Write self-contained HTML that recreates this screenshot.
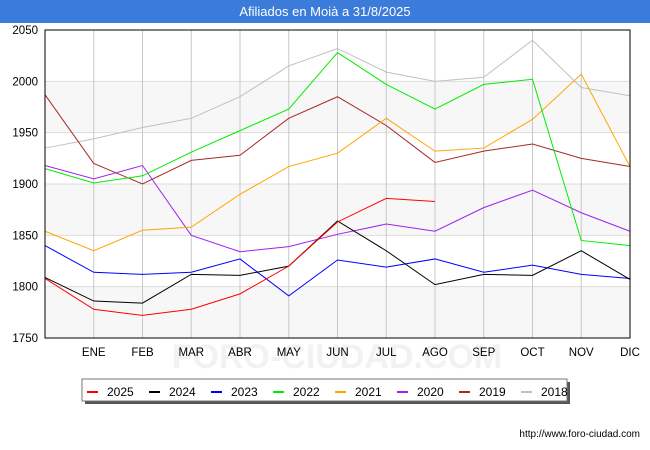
<!DOCTYPE html>
<html><head><meta charset="utf-8"><style>
body{margin:0;background:#fff;font-family:"Liberation Sans","DejaVu Sans",sans-serif;}
#wrap{position:relative;width:650px;height:450px;overflow:hidden;}
#title{position:absolute;left:0;top:0;width:650px;height:23px;background:#3b7bd9;color:#fff;font-size:13px;text-align:center;line-height:23px;}
</style></head><body>
<div id="wrap">
<div id="title">Afiliados en Moià a 31/8/2025</div>
<svg id="svg" width="650" height="450" style="position:absolute;left:0;top:0"></svg>
</div>
<script>
const months=["ENE","FEB","MAR","ABR","MAY","JUN","JUL","AGO","SEP","OCT","NOV","DIC"];
const yTicks=[1750,1800,1850,1900,1950,2000,2050];
const seriesNames=["2025","2024","2023","2022","2021","2020","2019","2018"];
const seriesColors=["#ff0000","#000000","#0000ff","#00ee00","#ffa500","#a020f0","#a52a2a","#c0c0c0"];
const s2025=[1808,1778,1772,1778,1793,1820,1863,1886,1883];
const s2024=[1809,1786,1784,1812,1811,1820,1864,1835,1802,1812,1811,1835,1807];
const s2023=[1840,1814,1812,1814,1827,1791,1826,1819,1827,1814,1821,1812,1808];
const s2022=[1915,1901,1908,1931,1952,1973,2028,1997,1973,1997,2002,1845,1840];
const s2021=[1854,1835,1855,1858,1890,1917,1930,1964,1932,1935,1963,2007,1917];
const s2020=[1918,1905,1918,1850,1834,1839,1851,1861,1854,1877,1894,1872,1854];
const s2019=[1987,1920,1900,1923,1928,1964,1985,1957,1921,1932,1939,1925,1917];
const s2018=[1935,1944,1955,1964,1985,2015,2032,2009,2000,2004,2040,1994,1986];
const allSeries=[s2025,s2024,s2023,s2022,s2021,s2020,s2019,s2018];
const NS="http://www.w3.org/2000/svg";
const svg=document.getElementById('svg');
const X0=45,X1=630,Y0=338,Y1=30;
const x=i=>X0+(X1-X0)*i/12;
const y=v=>Y0-(v-1750)*(Y0-Y1)/300;
function mk(t,a,p){const e=document.createElementNS(NS,t);for(const k in a)e.setAttribute(k,a[k]);(p||svg).appendChild(e);return e;}
for(let i=0;i<yTicks.length-1;i+=2){
 const r=mk('rect',{x:X0,y:y(yTicks[i+1]),width:X1-X0,height:y(yTicks[i])-y(yTicks[i+1]),fill:'#f7f7f7'});
 
 
}
const wm=mk('text',{x:337,y:368,'text-anchor':'middle','font-size':34,fill:'#f2f2f2','font-weight':'bold'});
wm.textContent='FORO-CIUDAD.COM';


yTicks.forEach(v=>{
 const l=mk('line',{x1:X0,x2:X1,y1:y(v),y2:y(v),stroke:'#dddddd','stroke-width':1});
 
 
 const t=mk('text',{x:38,y:y(v)+4,'text-anchor':'end','font-size':11.5,fill:'#000'});
 t.textContent=v;
 
 
});
months.forEach((m,i)=>{
 const l=mk('line',{x1:x(i+1),x2:x(i+1),y1:Y1,y2:Y0,stroke:'#c8c8c8','stroke-width':1});
 
 
 const t=mk('text',{x:x(i+1),y:356,'text-anchor':'middle','font-size':11.5,fill:'#000'});
 t.textContent=m;
 
 
});
for(let k=allSeries.length-1;k>=0;k--){
 const pts=allSeries[k].map((v,i)=>x(i)+','+y(v)).join(' ');
 const p=mk('polyline',{points:pts,fill:'none',stroke:seriesColors[k],'stroke-width':1});
 
 
}
const fr=mk('rect',{x:X0,y:Y1,width:X1-X0,height:Y0-Y1,fill:'none',stroke:'#000','stroke-width':1});


const lg=mk('g',{});


mk('rect',{x:85,y:382,width:485,height:22,fill:'#555'},lg);
mk('rect',{x:82,y:379,width:485,height:22,fill:'#fff',stroke:'#777','stroke-width':1},lg);
seriesNames.forEach((n,i)=>{
 const g=mk('g',{},lg);
 
 
 const lx=87+i*62;
 mk('line',{x1:lx,x2:lx+11,y1:392,y2:392,stroke:seriesColors[i],'stroke-width':2},g);
 const t=mk('text',{x:lx+20,y:396,'font-size':12,fill:'#000'},g);
 t.textContent=n;
});
const src=mk('text',{x:640,y:437,'text-anchor':'end','font-size':10,fill:'#000'});
src.textContent='http://www.foro-ciudad.com';


</script>
</body></html>
